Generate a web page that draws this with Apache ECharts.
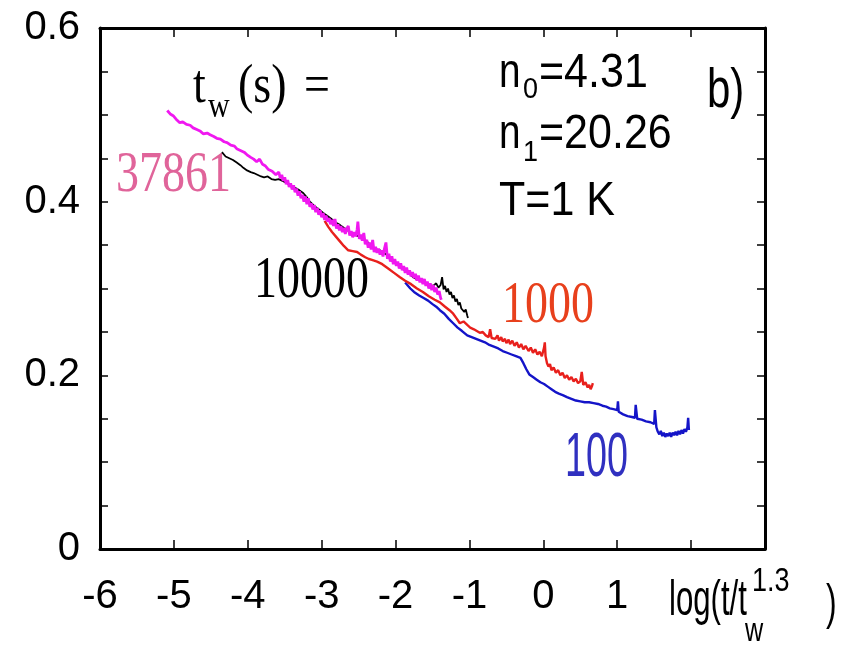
<!DOCTYPE html>
<html>
<head>
<meta charset="utf-8">
<script src="https://cdn.jsdelivr.net/npm/echarts@6/dist/echarts.min.js"></script>
<style>
  html, body { margin: 0; padding: 0; background: #fff; }
  #chart { width: 841px; height: 651px; }
</style>
</head>
<body>
<div id="chart"></div>
<script>
// Relaxation curves vs scaled time log(t/tw^1.3), one per waiting time tw (s)
const xTicks = [-6, -5, -4, -3, -2, -1, 0, 1];
const yTicks = [0, 0.2, 0.4, 0.6];

const tw37861 = [
  [-5.09,0.505],[-5.05,0.501],[-5.01,0.499],[-4.97,0.495],[-4.92,0.491],[-4.88,0.492],[-4.83,0.489],
  [-4.78,0.488],[-4.74,0.485],[-4.69,0.483],[-4.64,0.481],[-4.60,0.478],[-4.55,0.479],[-4.51,0.477],
  [-4.46,0.475],[-4.42,0.473],[-4.37,0.472],[-4.32,0.469],[-4.28,0.468],[-4.23,0.465],[-4.18,0.464],
  [-4.15,0.461],[-4.10,0.459],[-4.05,0.457],[-4.01,0.454],[-3.96,0.451],[-3.92,0.449],[-3.88,0.446],
  [-3.84,0.449],[-3.80,0.443],[-3.76,0.441],[-3.72,0.437],[-3.67,0.435],[-3.62,0.431],
  [-3.60,0.430],[-3.58,0.434],[-3.56,0.427],[-3.54,0.431],[-3.52,0.424],[-3.50,0.428],[-3.48,0.420],
  [-3.46,0.425],[-3.44,0.417],[-3.42,0.421],[-3.40,0.414],[-3.38,0.419],[-3.36,0.411],[-3.34,0.415],
  [-3.32,0.407],[-3.30,0.412],[-3.28,0.404],[-3.26,0.408],[-3.24,0.400],[-3.22,0.406],[-3.20,0.397],
  [-3.18,0.404],[-3.16,0.394],[-3.14,0.398],[-3.12,0.391],[-3.10,0.396],[-3.08,0.388],[-3.06,0.393],
  [-3.04,0.385],[-3.02,0.390],[-3.00,0.382],[-2.98,0.387],[-2.96,0.379],[-2.94,0.384],[-2.92,0.377],
  [-2.90,0.381],[-2.88,0.374],[-2.86,0.379],[-2.84,0.372],[-2.82,0.380],[-2.80,0.369],[-2.78,0.374],
  [-2.76,0.367],[-2.74,0.372],[-2.72,0.365],[-2.70,0.370],[-2.68,0.363],[-2.66,0.369],[-2.64,0.372],
  [-2.62,0.361],[-2.60,0.366],[-2.58,0.359],[-2.56,0.365],[-2.54,0.360],[-2.52,0.368],[-2.51,0.377],
  [-2.49,0.357],[-2.47,0.362],[-2.45,0.355],[-2.43,0.364],[-2.41,0.351],[-2.39,0.356],[-2.37,0.347],
  [-2.35,0.353],[-2.33,0.345],[-2.31,0.356],[-2.29,0.342],[-2.27,0.348],[-2.25,0.341],[-2.23,0.346],
  [-2.21,0.339],[-2.19,0.344],[-2.17,0.337],[-2.15,0.346],[-2.13,0.353],[-2.11,0.334],[-2.09,0.340],
  [-2.07,0.331],[-2.05,0.337],[-2.03,0.328],[-2.01,0.334],[-1.99,0.326],[-1.97,0.331],[-1.95,0.323],
  [-1.93,0.329],[-1.91,0.321],[-1.89,0.326],[-1.87,0.318],[-1.85,0.324],[-1.83,0.316],[-1.81,0.321],
  [-1.79,0.314],[-1.77,0.319],[-1.75,0.312],[-1.73,0.317],[-1.71,0.309],[-1.69,0.315],[-1.67,0.307],
  [-1.65,0.312],[-1.63,0.305],[-1.61,0.311],[-1.59,0.303],[-1.57,0.308],[-1.55,0.300],[-1.53,0.306],
  [-1.51,0.298],[-1.49,0.304],[-1.47,0.296],[-1.45,0.301],[-1.43,0.293],[-1.41,0.297],[-1.39,0.289],
  [-1.38,0.287]
];

const tw10000 = [
  [-4.35,0.457],[-4.30,0.452],[-4.25,0.450],[-4.20,0.448],[-4.15,0.445],[-4.10,0.442],[-4.06,0.439],
  [-4.01,0.436],[-3.96,0.434],[-3.92,0.433],[-3.87,0.431],[-3.82,0.429],[-3.78,0.428],[-3.73,0.429],
  [-3.68,0.426],[-3.63,0.425],[-3.58,0.426],[-3.53,0.424],[-3.48,0.422],[-3.43,0.419],[-3.39,0.417],
  [-3.34,0.415],[-3.30,0.413],[-3.25,0.410],[-3.20,0.405],[-3.16,0.400],[-3.11,0.396],[-3.07,0.393],
  [-3.02,0.390],[-2.98,0.387],[-2.93,0.384],[-2.88,0.381],[-2.84,0.378],[-2.79,0.375],[-2.75,0.373],
  [-2.70,0.370],[-2.66,0.368],[-2.62,0.365],[-2.57,0.363],[-2.53,0.361],[-2.48,0.360],[-2.44,0.358],
  [-2.40,0.355],[-2.35,0.351],[-2.31,0.347],[-2.26,0.345],[-2.21,0.344],[-2.16,0.341],[-2.12,0.339],
  [-2.07,0.335],[-2.03,0.332],[-1.98,0.328],[-1.94,0.325],[-1.89,0.322],[-1.85,0.319],[-1.80,0.316],
  [-1.76,0.313],[-1.72,0.311],[-1.67,0.309],[-1.62,0.307],[-1.58,0.305],[-1.53,0.304],[-1.49,0.303],
  [-1.45,0.306],[-1.42,0.301],[-1.39,0.304],[-1.37,0.313],[-1.35,0.299],[-1.33,0.303],[-1.31,0.296],
  [-1.29,0.300],[-1.27,0.293],[-1.25,0.296],[-1.23,0.289],[-1.21,0.292],[-1.19,0.285],[-1.17,0.288],
  [-1.15,0.281],[-1.13,0.284],[-1.11,0.277],[-1.09,0.279],[-1.07,0.273],[-1.05,0.276],[-1.03,0.269],
  [-1.02,0.266]
];

const tw1000 = [
  [-2.96,0.378],[-2.91,0.371],[-2.86,0.365],[-2.81,0.360],[-2.75,0.354],[-2.70,0.349],[-2.64,0.344],
  [-2.58,0.343],[-2.52,0.342],[-2.47,0.339],[-2.41,0.336],[-2.36,0.334],[-2.32,0.333],[-2.25,0.331],
  [-2.18,0.328],[-2.10,0.323],[-2.02,0.318],[-1.94,0.313],[-1.87,0.309],[-1.79,0.305],[-1.71,0.300],
  [-1.63,0.296],[-1.55,0.291],[-1.47,0.287],[-1.40,0.284],[-1.33,0.279],[-1.27,0.275],[-1.22,0.271],
  [-1.17,0.265],[-1.13,0.260],[-1.08,0.262],[-1.03,0.258],[-0.99,0.255],[-0.94,0.253],[-0.90,0.251],
  [-0.86,0.249],[-0.82,0.250],[-0.78,0.246],[-0.74,0.244],[-0.72,0.253],[-0.70,0.243],
  [-0.65,0.242],[-0.62,0.246],[-0.60,0.240],[-0.57,0.244],[-0.55,0.239],[-0.52,0.242],[-0.50,0.237],
  [-0.47,0.241],[-0.45,0.236],[-0.42,0.240],[-0.39,0.234],[-0.36,0.238],[-0.33,0.232],[-0.30,0.236],
  [-0.27,0.230],[-0.24,0.234],[-0.20,0.228],[-0.17,0.232],[-0.14,0.226],[-0.11,0.230],[-0.08,0.224],
  [-0.05,0.227],[-0.02,0.222],[0.00,0.224],[0.01,0.232],[0.02,0.238],[0.03,0.222],[0.05,0.214],
  [0.07,0.210],[0.09,0.213],[0.11,0.206],[0.14,0.209],[0.17,0.203],[0.20,0.206],[0.23,0.200],
  [0.26,0.203],[0.29,0.197],[0.32,0.200],[0.35,0.195],[0.38,0.198],[0.41,0.193],[0.44,0.196],
  [0.47,0.191],[0.50,0.193],[0.52,0.204],[0.54,0.189],[0.57,0.192],[0.60,0.186],[0.62,0.189],
  [0.64,0.184],[0.66,0.188],[0.67,0.191]
];

const tw100 = [
  [-1.87,0.307],[-1.80,0.300],[-1.75,0.296],[-1.68,0.292],[-1.62,0.289],[-1.56,0.286],[-1.50,0.282],
  [-1.45,0.279],[-1.40,0.275],[-1.34,0.271],[-1.28,0.265],[-1.22,0.260],[-1.16,0.255],[-1.10,0.251],
  [-1.03,0.246],[-0.97,0.244],[-0.91,0.242],[-0.85,0.240],[-0.79,0.238],[-0.73,0.235],[-0.67,0.233],
  [-0.61,0.231],[-0.55,0.228],[-0.49,0.226],[-0.43,0.224],[-0.37,0.222],[-0.31,0.220],[-0.27,0.214],
  [-0.23,0.207],[-0.19,0.201],[-0.14,0.198],[-0.09,0.195],[-0.04,0.192],[0.01,0.190],[0.06,0.187],
  [0.11,0.184],[0.16,0.181],[0.21,0.179],[0.27,0.177],[0.32,0.175],[0.38,0.173],[0.44,0.171],
  [0.50,0.170],[0.56,0.169],[0.62,0.169],[0.68,0.168],[0.74,0.167],[0.80,0.165],[0.85,0.164],
  [0.90,0.162],[0.95,0.161],[1.00,0.160],[1.01,0.170],[1.02,0.158],[1.08,0.155],[1.14,0.153],
  [1.20,0.152],[1.24,0.151],[1.25,0.166],[1.27,0.150],[1.33,0.149],[1.39,0.147],[1.45,0.146],
  [1.50,0.144],[1.51,0.160],[1.53,0.140],[1.55,0.135],[1.57,0.132],[1.59,0.136],[1.61,0.130],
  [1.63,0.134],[1.65,0.129],[1.67,0.133],[1.69,0.130],[1.71,0.134],[1.73,0.129],[1.75,0.134],
  [1.77,0.131],[1.79,0.135],[1.81,0.131],[1.83,0.136],[1.85,0.132],[1.87,0.137],[1.89,0.133],
  [1.91,0.138],[1.93,0.135],[1.95,0.140],[1.96,0.151],[1.97,0.137]
];

const SANS = "'Liberation Sans', Arial, Helvetica, sans-serif";
const SERIF = "'Liberation Serif', 'Times New Roman', serif";

function isMajorY(v) {
  return yTicks.some(t => Math.abs(t - v) < 1e-6);
}

// Text piece helper: left edge at x, centred vertically on cy, optionally stretched
function piece(text, x, cy, size, family, color, sy, sx) {
  return {
    type: 'text',
    x: x,
    y: cy,
    scaleX: sx || 1,
    scaleY: sy || 1,
    silent: true,
    style: {
      x: 0, y: 0,
      text: text,
      font: size + 'px ' + family,
      fill: color,
      align: 'left',
      verticalAlign: 'middle'
    }
  };
}

const annotations = [
  // t_w(s) =
  piece('t', 193, 88, 46, SERIF, '#000', 1.2),
  piece('w', 208, 108, 30, SERIF, '#000', 1.2),
  piece('(s)', 238, 88, 46, SERIF, '#000', 1.2),
  piece('=', 304, 88, 46, SERIF, '#000', 1.2),
  // curve labels
  piece('37861', 116, 176, 46, SERIF, '#e0649a', 1.25),
  piece('10000', 254, 281, 46, SERIF, '#000', 1.3),
  piece('1000', 502, 306, 46, SERIF, '#e8401c', 1.3),
  piece('100', 565, 459, 46, SANS, '#3030c0', 1.35, 0.82),
  // parameters
  piece('n', 499, 74, 43, SANS, '#000', 1.1, 0.9),
  piece('0', 523, 90, 27, SANS, '#000', 1.1),
  piece('=4.31', 539, 74, 43, SANS, '#000', 1.1),
  piece('n', 499, 135, 43, SANS, '#000', 1.1, 0.9),
  piece('1', 523, 153, 27, SANS, '#000', 1.1),
  piece('=20.26', 539, 135, 43, SANS, '#000', 1.1),
  piece('T=1 K', 499, 202, 43, SANS, '#000', 1.1),
  piece('b)', 707, 92, 42, SANS, '#000', 1.3),
  // x axis title log(t/tw^1.3)
  piece('log(t/t', 669, 601, 38, SANS, '#000', 1.3, 0.82),
  piece('w', 745, 632, 28, SANS, '#000', 1.2, 0.9),
  piece('1.3', 752, 582, 27, SANS, '#000', 1.2),
  piece(')', 826, 605, 38, SANS, '#000', 1.3, 0.84)
];

const axisLine = { show: true, onZero: false, lineStyle: { color: '#000', width: 3 } };
const tickStyle = { color: '#000', width: 1.5 };

const chart = echarts.init(document.getElementById('chart'), null, { renderer: 'canvas' });
chart.setOption({
  animation: false,
  backgroundColor: '#fff',
  grid: { left: 100, right: 76, top: 28, bottom: 102, containLabel: false, outerBoundsMode: 'none' },
  xAxis: [
    {
      type: 'value', position: 'bottom', min: -6, max: 3, interval: 1,
      axisLine: axisLine,
      axisTick: { show: true, inside: true, length: 9, lineStyle: tickStyle },
      splitLine: { show: false },
      axisLabel: {
        show: true, margin: 28, color: '#000', fontSize: 40, fontFamily: SANS,
        formatter: v => (xTicks.indexOf(v) >= 0 ? String(v) : '')
      }
    },
    {
      type: 'value', position: 'top', min: -6, max: 3, interval: 1,
      axisLine: axisLine,
      axisTick: { show: true, inside: true, length: 9, lineStyle: tickStyle },
      splitLine: { show: false },
      axisLabel: { show: false }
    }
  ],
  yAxis: [
    {
      type: 'value', position: 'left', min: 0, max: 0.6, interval: 0.05,
      axisLine: axisLine,
      axisTick: { show: true, inside: true, length: 8, lineStyle: tickStyle },
      splitLine: { show: false },
      axisLabel: {
        show: true, margin: 20, color: '#000', fontSize: 40, fontFamily: SANS,
        formatter: v => (isMajorY(v) ? (Math.abs(v) < 1e-9 ? '0' : v.toFixed(1)) : '')
      }
    },
    {
      type: 'value', position: 'right', min: 0, max: 0.6, interval: 0.05,
      axisLine: axisLine,
      axisTick: { show: true, inside: true, length: 8, lineStyle: tickStyle },
      splitLine: { show: false },
      axisLabel: { show: false }
    }
  ],
  series: [
    { name: '100', type: 'line', data: tw100, showSymbol: false, xAxisIndex: 0, yAxisIndex: 0,
      lineStyle: { color: '#1414c8', width: 2.4 }, itemStyle: { color: '#1414c8' } },
    { name: '1000', type: 'line', data: tw1000, showSymbol: false, xAxisIndex: 0, yAxisIndex: 0,
      lineStyle: { color: '#e8201c', width: 2.4 }, itemStyle: { color: '#e8201c' } },
    { name: '10000', type: 'line', data: tw10000, showSymbol: false, xAxisIndex: 0, yAxisIndex: 0,
      lineStyle: { color: '#000', width: 1.8 }, itemStyle: { color: '#000' } },
    { name: '37861', type: 'line', data: tw37861, showSymbol: false, xAxisIndex: 0, yAxisIndex: 0,
      lineStyle: { color: '#f018f0', width: 2.8 }, itemStyle: { color: '#f018f0' } }
  ],
  graphic: annotations
});
</script>
</body>
</html>
